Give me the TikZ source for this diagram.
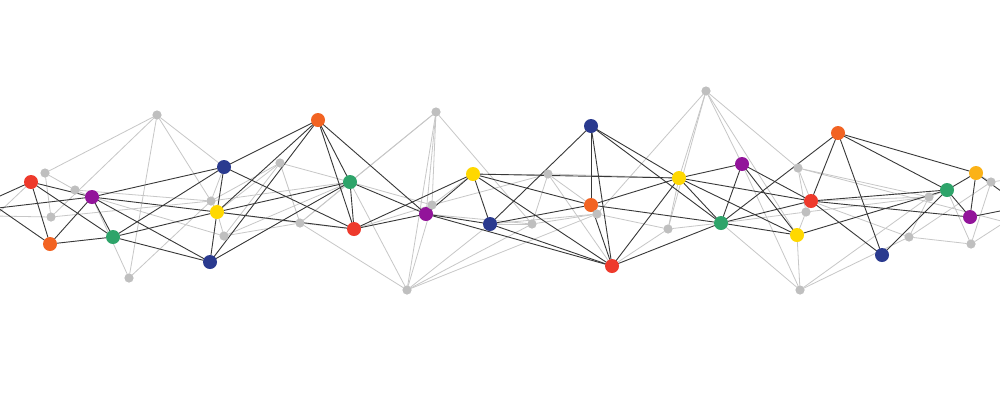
\documentclass[tikz,border=0pt]{standalone}
\begin{document}
\begin{tikzpicture}[x=1pt,y=-1pt,
  dk/.style={draw=black!78,line width=0.9pt},
  lt/.style={draw=black!22,line width=0.8pt},
  cn/.style={circle,draw=white,line width=1.4pt,minimum size=12pt,inner sep=0pt},
  gn/.style={circle,draw=white,line width=1pt,fill=black!25,minimum size=8pt,inner sep=0pt}]
\definecolor{cRed}{HTML}{EE3A2C}
\definecolor{cOra}{HTML}{F26322}
\definecolor{cPur}{HTML}{92149A}
\definecolor{cGre}{HTML}{2EA46A}
\definecolor{cNav}{HTML}{2A3A8F}
\definecolor{cYel}{HTML}{FFD800}
\definecolor{cAmb}{HTML}{FBB217}
\clip (0,0) rectangle (1000,400);
\fill[white] (0,0) rectangle (1000,400);
% coloured nodes
\node[cn,fill=cRed] (A) at (31,182) {};
\node[cn,fill=cPur] (B) at (92,197) {};
\node[cn,fill=cOra] (C) at (50,244) {};
\node[cn,fill=cGre] (D) at (113,237) {};
\node[cn,fill=cNav] (E) at (224,167) {};
\node[cn,fill=cYel] (F) at (217,212) {};
\node[cn,fill=cNav] (G) at (210,262) {};
\node[cn,fill=cOra] (H) at (318,120) {};
\node[cn,fill=cGre] (I) at (350,182) {};
\node[cn,fill=cRed] (J) at (354,229) {};
\node[cn,fill=cPur] (K) at (426,214) {};
\node[cn,fill=cYel] (L) at (473,174) {};
\node[cn,fill=cNav] (M) at (490,224) {};
\node[cn,fill=cNav] (N) at (591,126) {};
\node[cn,fill=cOra] (O) at (591,205) {};
\node[cn,fill=cRed] (P) at (612,266) {};
\node[cn,fill=cYel] (Q) at (679,178) {};
\node[cn,fill=cPur] (R) at (742,164) {};
\node[cn,fill=cGre] (S) at (721,223) {};
\node[cn,fill=cRed] (T) at (811,201) {};
\node[cn,fill=cYel] (U) at (797,235) {};
\node[cn,fill=cOra] (V) at (838,133) {};
\node[cn,fill=cNav] (W) at (882,255) {};
\node[cn,fill=cGre] (X) at (947,190) {};
\node[cn,fill=cAmb] (Y) at (976,173) {};
\node[cn,fill=cPur] (Z) at (970,217) {};
% grey nodes
\node[gn] (g1) at (157,115) {};
\node[gn] (g2) at (45,173) {};
\node[gn] (g3) at (75,190) {};
\node[gn] (g4) at (51,217) {};
\node[gn] (g5) at (129,278) {};
\node[gn] (g6) at (211,201) {};
\node[gn] (g7) at (224,236) {};
\node[gn] (g8) at (280,163) {};
\node[gn] (g9) at (300,223) {};
\node[gn] (g11) at (436,112) {};
\node[gn] (g12) at (432,205) {};
\node[gn] (g13) at (407,290) {};
\node[gn] (g14) at (548,174) {};
\node[gn] (g15) at (532,224) {};
\node[gn] (g16) at (597,214) {};
\node[gn] (g17) at (706,91) {};
\node[gn] (g18) at (668,229) {};
\node[gn] (g19) at (798,168) {};
\node[gn] (g20) at (806,212) {};
\node[gn] (g21) at (800,290) {};
\node[gn] (g22) at (929,197) {};
\node[gn] (g23) at (991,182) {};
\node[gn] (g24) at (909,237) {};
\node[gn] (g25) at (971,244) {};
% off-picture ends
\coordinate (L1) at (-20,205);
\coordinate (L2) at (-2,208);
\coordinate (L3) at (-5,216);
\coordinate (R1) at (1005,210);
\coordinate (R2) at (1005,194);
\coordinate (R3) at (1005,222);
\coordinate (R4) at (1005,180);
% light connectors
\foreach \a/\b in {g2/g1,g2/g3,g3/B,g2/g4,g4/g1,L3/g4,g4/g6,g1/g5,g1/g6,g1/E,g5/B,g5/g6,g3/g6,A/L3,
  g6/F,g6/E,g6/g8,g6/I,B/g7,g7/F,g7/g8,g7/I,g7/g9,g8/F,g8/g9,g8/I,g9/I,g9/J,g9/g13,g9/F,
  g11/I,g11/g9,g11/K,g11/g12,g11/g15,g11/g13,g12/K,g12/g14,g12/J,g12/g13,g12/I,
  g13/I,g13/M,g13/g15,g13/g16,g14/L,g14/Q,g14/g15,g14/O,g14/P,g15/M,g15/g16,g15/K,
  g16/O,g16/g18,g16/M,g16/g17,g17/Q,g17/g18,g17/R,g17/g19,g17/U,g18/Q,g18/S,g18/P,
  g19/g20,g19/T,g19/g22,g19/R3,g20/U,g20/T,g20/S,g20/g22,g21/U,g21/S,g21/R,g21/g22,g21/g24,
  g22/g24,g22/X,g22/T,g23/g25,g23/g24,g23/Y,g23/R4,g24/g25,g24/T,g25/X,g25/R3,L/g12}
  \draw[lt] (\a) -- (\b);
% dark connectors
\foreach \a/\b in {L1/A,L2/B,L2/C,A/B,A/C,A/D,B/C,B/D,B/E,B/F,B/G,C/D,D/E,D/F,D/G,
  E/F,E/H,E/J,F/G,F/H,F/I,F/J,G/H,G/I,H/I,H/J,H/K,I/J,I/K,J/K,J/L,K/L,K/M,K/P,
  L/M,L/O,L/P,L/Q,M/N,M/O,M/P,N/O,N/P,N/Q,N/S,O/P,O/Q,O/S,P/Q,P/S,
  Q/R,Q/S,Q/T,Q/U,R/S,R/T,R/U,S/T,S/U,S/V,T/V,T/X,T/Z,T/W,U/X,V/W,V/X,V/Y,
  W/X,X/Y,X/Z,Y/Z,Z/R1,Y/R2}
  \draw[dk] (\a) -- (\b);
% node discs on top of the connectors
\foreach \n/\c in {A/cRed,B/cPur,C/cOra,D/cGre,E/cNav,F/cYel,G/cNav,H/cOra,I/cGre,J/cRed,K/cPur,L/cYel,M/cNav,
  N/cNav,O/cOra,P/cRed,Q/cYel,R/cPur,S/cGre,T/cRed,U/cYel,V/cOra,W/cNav,X/cGre,Y/cAmb,Z/cPur}
  \fill[white] (\n) circle (7pt) [fill=\c] (\n) circle (5.6pt);
\foreach \n in {g1,g2,g3,g4,g5,g6,g7,g8,g9,g11,g12,g13,g14,g15,g16,g17,g18,g19,g20,g21,g22,g23,g24,g25}
  \fill[white] (\n) circle (4.6pt) [fill=black!25] (\n) circle (3.6pt);
\end{tikzpicture}
\end{document}
